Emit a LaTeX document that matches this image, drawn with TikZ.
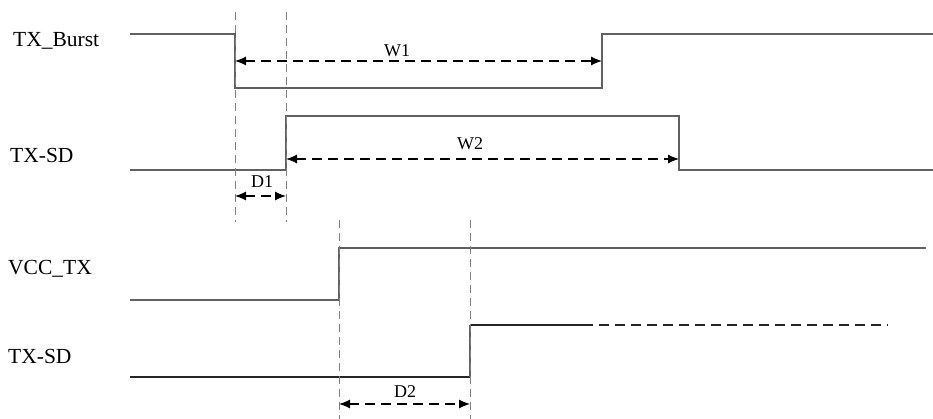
\documentclass[tikz,border=0pt]{standalone}
\usepackage{fontspec}
\setmainfont{Liberation Serif}
\usetikzlibrary{arrows.meta}
\begin{document}
\begin{tikzpicture}[x=1pt,y=-1pt,
  sig/.style={draw=black!62, line width=1.3pt},
  sigdark/.style={draw=black!85, line width=1.3pt},
  guide/.style={draw=black!50, line width=1pt, dash pattern=on 8pt off 5pt},
  dim/.style={draw=black, line width=1.1pt, dash pattern=on 10pt off 6pt,
    {Latex[length=11pt,width=9pt]}-{Latex[length=11pt,width=9pt]}},
  lbl/.style={font=\fontsize{21.5}{24}\selectfont, anchor=base west, inner sep=0pt},
  dlbl/.style={font=\fontsize{18}{20}\selectfont, anchor=base, inner sep=0pt}]
\useasboundingbox (0,0) rectangle (933,419);

% labels
\node[lbl] (lburst) at (13,47) {TX\_Burst};
\node[lbl] (lsd1) at (10,163) {TX-SD};
\node[lbl] (lvcc) at (8,275) {VCC\_TX};
\node[lbl] (lsd2) at (8,363) {TX-SD};

% TX_Burst
\coordinate (b0) at (130,34);
\coordinate (b1) at (235,34);
\coordinate (b2) at (235,88);
\coordinate (b3) at (602,88);
\coordinate (b4) at (602,34);
\coordinate (b5) at (933,34);
\draw[sig] (b0) -- (b1) -- (b2) -- (b3) -- (b4) -- (b5);

% TX-SD (1)
\coordinate (s0) at (130,170);
\coordinate (s1) at (286,170);
\coordinate (s2) at (286,116);
\coordinate (s3) at (679,116);
\coordinate (s4) at (679,170);
\coordinate (s5) at (933,170);
\draw[sig] (s0) -- (s1) -- (s2) -- (s3) -- (s4) -- (s5);

% VCC_TX
\coordinate (v0) at (130,300);
\coordinate (v1) at (339,300);
\coordinate (v2) at (339,248);
\coordinate (v3) at (926,248);
\draw[sig] (v0) -- (v1) -- (v2) -- (v3);

% TX-SD (2)
\coordinate (t0) at (130,377);
\coordinate (t1) at (470,377);
\coordinate (t2) at (470,325);
\coordinate (t3) at (583,325);
\coordinate (t4) at (888,325);
\draw[sigdark] (t0) -- (t1);
\draw[sig] (t1) -- (t2);
\draw[sigdark] (t2) -- (t3);
\draw[sigdark, line width=1.2pt, dash pattern=on 10pt off 6pt] (t3) -- (t4);

% guide lines
\coordinate (g1a) at (235,12); \coordinate (g1b) at (235,222);
\coordinate (g2a) at (286,12); \coordinate (g2b) at (286,222);
\coordinate (g3a) at (339,220); \coordinate (g3b) at (339,419);
\coordinate (g4a) at (470,220); \coordinate (g4b) at (470,419);
\draw[guide] (g1a) -- (g1b);
\draw[guide] (g2a) -- (g2b);
\draw[guide] (g3a) -- (g3b);
\draw[guide] (g4a) -- (g4b);

% dimension arrows
\coordinate (w1a) at (235,61); \coordinate (w1b) at (602,61);
\coordinate (w2a) at (286,159); \coordinate (w2b) at (679,159);
\coordinate (d1a) at (235,196); \coordinate (d1b) at (286,196);
\coordinate (d2a) at (339,404); \coordinate (d2b) at (470,404);
\draw[dim] (w1a) -- (w1b);
\draw[dim] (w2a) -- (w2b);
\draw[dim] (d1a) -- (d1b);
\draw[dim] (d2a) -- (d2b);

\node[dlbl] (lw1) at (397,57) {W1};
\node[dlbl] (lw2) at (470,150) {W2};
\node[dlbl] (ld1) at (262,188) {D1};
\node[dlbl] (ld2) at (405,397) {D2};
\end{tikzpicture}
\end{document}
